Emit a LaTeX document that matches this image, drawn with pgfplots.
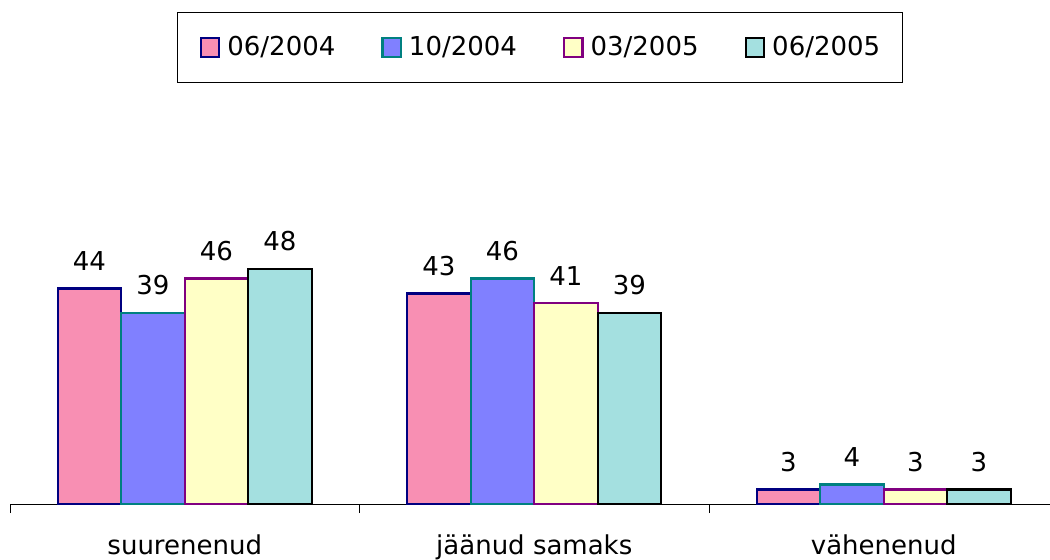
\documentclass[border=0pt]{standalone}
\usepackage{pgfplots}
\pgfplotsset{compat=1.18}
\usepackage{fontspec}
\setmainfont{DejaVu Sans}
\definecolor{fA}{RGB}{248,143,179}
\definecolor{fB}{RGB}{128,128,255}
\definecolor{fC}{RGB}{255,255,198}
\definecolor{fD}{RGB}{164,224,224}
\definecolor{eA}{RGB}{0,0,128}
\definecolor{eB}{RGB}{0,128,128}
\definecolor{eC}{RGB}{128,0,128}
\definecolor{eD}{RGB}{0,0,0}
\newcommand{\cf}{\fontsize{13bp}{15.5bp}\selectfont}
\begin{document}
\begin{tikzpicture}
\useasboundingbox (0,0) rectangle (525bp,280bp);
\begin{axis}[
  at={(5bp,28bp)}, anchor=south west,
  scale only axis, width=524.25bp, height=147bp,
  xmin=-0.5, xmax=2.5, ymin=0, ymax=60,
  clip=false,
  axis y line=none, axis x line=bottom,
  x axis line style={-, line width=0.5bp},
  xtick={0,1,2},
  xticklabels={suurenenud, jäänud samaks, vähenenud},
  minor xtick={-0.5,0.5,1.5,2.5},
  major tick length=0pt, minor tick length=4.5bp,
  tick align=outside,
  every tick/.style={black, line width=0.5bp},
  xticklabel style={anchor=base, yshift=-25bp, font=\cf, inner sep=0pt},
  /pgf/number format/assume math mode=true,
  ybar=0pt, bar width=31.75bp,
  nodes near coords,
  every node near coord/.append style={anchor=base, yshift=9bp, inner sep=0pt, font=\cf, black},
  legend columns=4,
  legend image code/.code={\draw[#1, line width=1.1bp] (0bp,-4.6bp) rectangle (9.2bp,4.6bp);},
  legend style={at={(0.5055,1.5527)}, anchor=center, draw=black, line width=0.5bp,
    font=\cf, inner xsep=11bp, inner ysep=12bp,
    nodes={inner sep=0pt},
    /tikz/every odd column/.append style={column sep=3.5bp},
    /tikz/every even column/.append style={column sep=23bp}},
]
\addplot[fill=fA, draw=eA, line width=1.2bp] coordinates {(0,44) (1,43) (2,3)};
\addplot[fill=fB, draw=eB, line width=1.2bp] coordinates {(0,39) (1,46) (2,4)};
\addplot[fill=fC, draw=eC, line width=1.2bp] coordinates {(0,46) (1,41) (2,3)};
\addplot[fill=fD, draw=eD, line width=1.2bp] coordinates {(0,48) (1,39) (2,3)};
\legend{06/2004, 10/2004, 03/2005, 06/2005}
\end{axis}
\end{tikzpicture}
\end{document}
